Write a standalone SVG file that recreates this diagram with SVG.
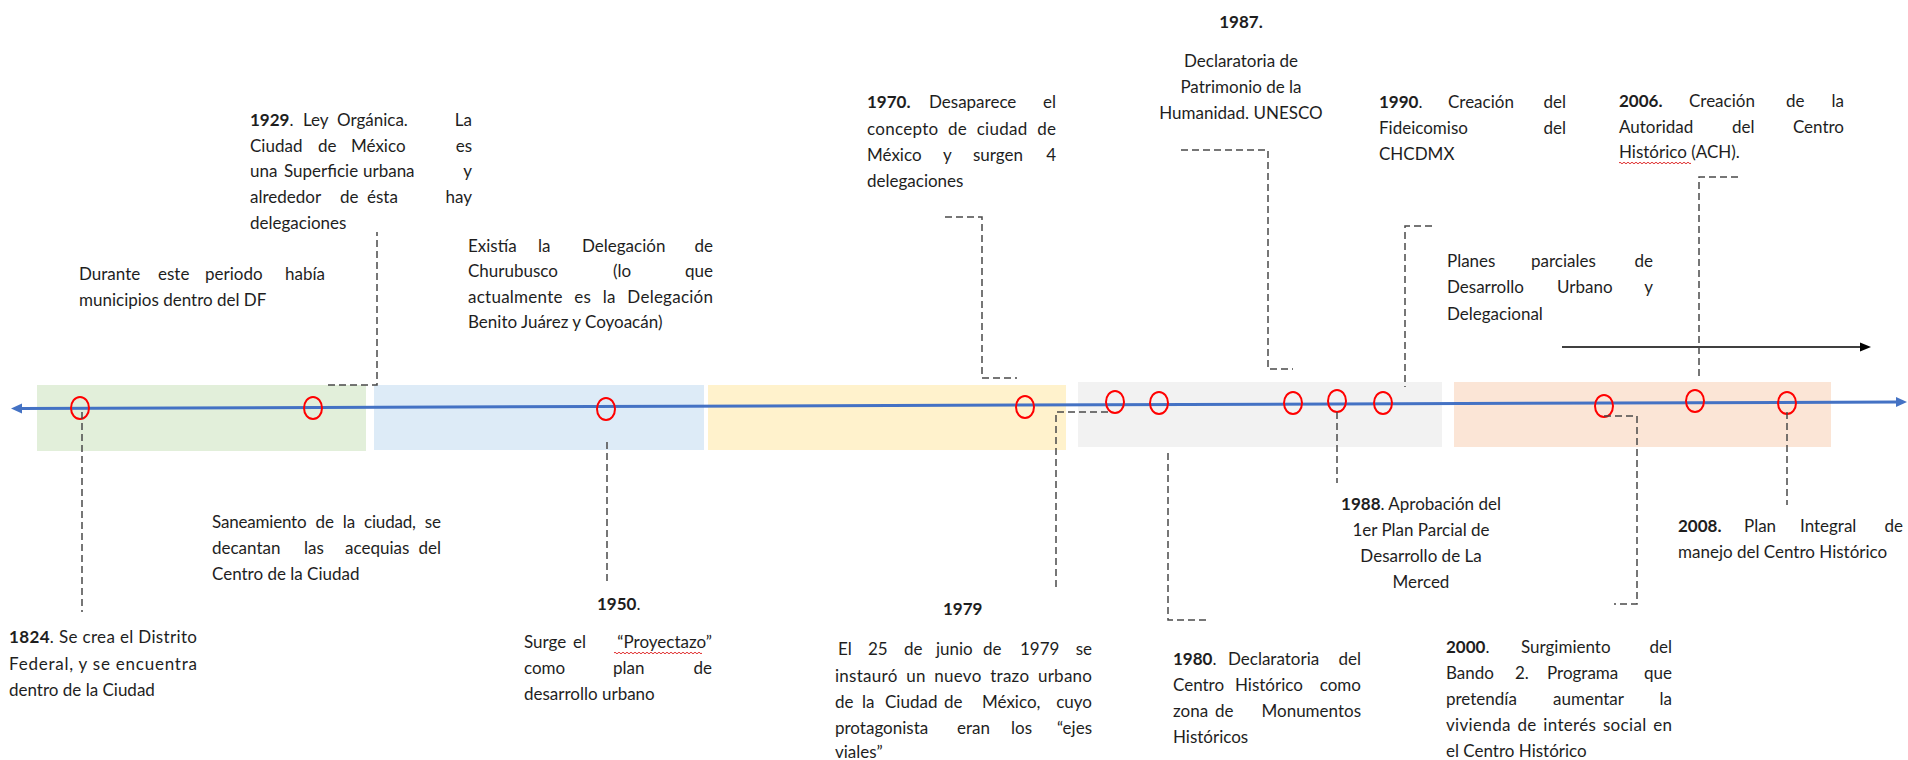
<svg xmlns="http://www.w3.org/2000/svg" width="1908" height="760" viewBox="0 0 1908 760">
<style>
.t{font-family:Lato,"Liberation Sans",sans-serif;font-size:17px;fill:#1e1e1e}
.b{font-weight:bold}
.e{text-anchor:end}
.m{text-anchor:middle}
.c{fill:none;stroke:#FF0000;stroke-width:2}
.d{fill:none;stroke:#4a4a4a;stroke-width:1.5;stroke-dasharray:7 4}
.sq{fill:none;stroke:#E03030;stroke-width:1}
</style>
<rect width="1908" height="760" fill="#FFFFFF"/>
<g id="bands">
<rect x="37" y="385" width="329" height="66" fill="#E2EFDA"/>
<rect x="374" y="385" width="330" height="65" fill="#DDEBF7"/>
<rect x="708" y="385" width="358" height="65" fill="#FFF2CC"/>
<rect x="1078" y="382" width="364" height="65" fill="#F2F2F2"/>
<rect x="1454" y="382" width="377" height="65" fill="#FBE5D6"/>
</g>
<g id="timeline">
<line x1="20" y1="408.5" x2="1897" y2="402" stroke="#4472C4" stroke-width="3"/>
<polygon points="11,408.5 22,403.5 22,413.5" fill="#4472C4"/>
<polygon points="1907,402 1896,397 1896,407" fill="#4472C4"/>
</g>
<g id="arrow-black">
<line x1="1562" y1="347" x2="1862" y2="347" stroke="#000" stroke-width="1.5"/>
<polygon points="1871,347 1860,342.5 1860,351.5" fill="#000"/>
</g>
<g id="markers">
<ellipse class="c" cx="80" cy="408" rx="9" ry="11"/>
<ellipse class="c" cx="313" cy="408" rx="9" ry="11"/>
<ellipse class="c" cx="606" cy="409" rx="9" ry="11"/>
<ellipse class="c" cx="1025" cy="407" rx="9" ry="11"/>
<ellipse class="c" cx="1115" cy="402" rx="9" ry="11"/>
<ellipse class="c" cx="1159" cy="403" rx="9" ry="11"/>
<ellipse class="c" cx="1293" cy="403" rx="9" ry="11"/>
<ellipse class="c" cx="1337" cy="401" rx="9" ry="11"/>
<ellipse class="c" cx="1383" cy="403" rx="9" ry="11"/>
<ellipse class="c" cx="1604" cy="406" rx="9" ry="11"/>
<ellipse class="c" cx="1695" cy="401" rx="9" ry="11"/>
<ellipse class="c" cx="1787" cy="403" rx="9" ry="11"/>
</g>
<g id="connectors">
<path class="d" d="M82,412 V612"/>
<path class="d" d="M328,385 H377 V232"/>
<path class="d" d="M607,442 V585"/>
<path class="d" d="M945,217 H982 V378 H1017"/>
<path class="d" d="M1108,412 H1056 V588"/>
<path class="d" d="M1168,453 V620 H1208"/>
<path class="d" d="M1181,150 H1268 V369 H1293"/>
<path class="d" d="M1337,412 V483"/>
<path class="d" d="M1432,226 H1405 V387"/>
<path class="d" d="M1604,416 H1637 V604 H1614"/>
<path class="d" d="M1738,177 H1699 V377"/>
<path class="d" d="M1787,412 V505"/>
</g>
<g id="n1824">
<text class="t" x="9" y="643" textLength="188" lengthAdjust="spacing"><tspan class="b">1824</tspan>. Se crea el Distrito</text>
<text class="t" x="9" y="670" textLength="188" lengthAdjust="spacing">Federal, y se encuentra</text>
<text class="t" x="9" y="696">dentro de la Ciudad</text>
</g>
<g id="n-municipios">
<text class="t" y="280"><tspan x="79">Durante</tspan><tspan x="158">este</tspan><tspan x="205">periodo</tspan></text>
<text class="t e" x="325" y="280">había</text>
<text class="t" x="79" y="306">municipios dentro del DF</text>
</g>
<g id="n1929">
<text class="t" y="126"><tspan x="250"><tspan class="b">1929</tspan>.</tspan><tspan x="303">Ley</tspan><tspan x="337">Orgánica.</tspan></text>
<text class="t e" x="472" y="126">La</text>
<text class="t" y="152"><tspan x="250">Ciudad</tspan><tspan x="318">de</tspan><tspan x="351">México</tspan></text>
<text class="t e" x="472" y="152">es</text>
<text class="t" y="177"><tspan x="250">una</tspan><tspan x="284">Superficie</tspan><tspan x="363">urbana</tspan></text>
<text class="t e" x="472" y="177">y</text>
<text class="t" y="203"><tspan x="250">alrededor</tspan><tspan x="340">de</tspan><tspan x="367">ésta</tspan></text>
<text class="t e" x="472" y="203">hay</text>
<text class="t" x="250" y="229">delegaciones</text>
</g>
<g id="n-saneamiento">
<text class="t" x="212" y="528" word-spacing="5" textLength="229" lengthAdjust="spacing">Saneamiento de la ciudad, se</text>
<text class="t" y="554"><tspan x="212">decantan</tspan><tspan x="304">las</tspan><tspan x="345">acequias</tspan></text>
<text class="t e" x="441" y="554">del</text>
<text class="t" x="212" y="580">Centro de la Ciudad</text>
</g>
<g id="n-churubusco">
<text class="t" y="252"><tspan x="468">Existía</tspan><tspan x="538">la</tspan><tspan x="582">Delegación</tspan></text>
<text class="t e" x="713" y="252">de</text>
<text class="t" y="277"><tspan x="468">Churubusco</tspan><tspan x="613">(lo</tspan></text>
<text class="t e" x="713" y="277">que</text>
<text class="t" x="468" y="303" word-spacing="7" textLength="245" lengthAdjust="spacing">actualmente es la Delegación</text>
<text class="t" x="468" y="328">Benito Juárez y Coyoacán)</text>
</g>
<g id="n1950">
<text class="t" x="597" y="610"><tspan class="b">1950</tspan>.</text>
<text class="t" y="648"><tspan x="524">Surge</tspan><tspan x="573">el</tspan></text>
<text class="t e" x="712" y="648">“Proyectazo”</text>
<path class="sq" d="M614,653 q1,-1.6 2,0 t2,0 t2,0 t2,0 t2,0 t2,0 t2,0 t2,0 t2,0 t2,0 t2,0 t2,0 t2,0 t2,0 t2,0 t2,0 t2,0 t2,0 t2,0 t2,0 t2,0 t2,0 t2,0 t2,0 t2,0 t2,0 t2,0 t2,0 t2,0 t2,0 t2,0 t2,0 t2,0 t2,0 t2,0 t2,0 t2,0 t2,0 t2,0 t2,0 t2,0 t2,0 t2,0 t2,0"/>
<text class="t" y="674"><tspan x="524">como</tspan><tspan x="613">plan</tspan></text>
<text class="t e" x="712" y="674">de</text>
<text class="t" x="524" y="700">desarrollo urbano</text>
</g>
<g id="n1970">
<text class="t" y="108"><tspan x="867" class="b">1970.</tspan><tspan x="929">Desaparece</tspan></text>
<text class="t e" x="1056" y="108">el</text>
<text class="t" x="867" y="135" word-spacing="5" textLength="189" lengthAdjust="spacing">concepto de ciudad de</text>
<text class="t" y="161"><tspan x="867">México</tspan><tspan x="943">y</tspan><tspan x="973">surgen</tspan></text>
<text class="t e" x="1056" y="161">4</text>
<text class="t" x="867" y="187">delegaciones</text>
</g>
<g id="n1979">
<text class="t b" x="943" y="615">1979</text>
<text class="t" y="655"><tspan x="838">El</tspan><tspan x="868">25</tspan><tspan x="904">de</tspan><tspan x="936">junio</tspan><tspan x="983">de</tspan><tspan x="1020">1979</tspan></text>
<text class="t e" x="1092" y="655">se</text>
<text class="t" x="835" y="682" word-spacing="4" textLength="257" lengthAdjust="spacing">instauró un nuevo trazo urbano</text>
<text class="t" y="708"><tspan x="835">de</tspan><tspan x="862">la</tspan><tspan x="885">Ciudad</tspan><tspan x="944">de</tspan><tspan x="982">México,</tspan></text>
<text class="t e" x="1092" y="708">cuyo</text>
<text class="t" y="734"><tspan x="835">protagonista</tspan><tspan x="957">eran</tspan><tspan x="1011">los</tspan></text>
<text class="t e" x="1092" y="734">“ejes</text>
<text class="t" x="835" y="758">viales”</text>
</g>
<g id="n1980">
<text class="t" y="665"><tspan x="1173"><tspan class="b">1980</tspan>.</tspan><tspan x="1228">Declaratoria</tspan></text>
<text class="t e" x="1361" y="665">del</text>
<text class="t" y="691"><tspan x="1173">Centro</tspan><tspan x="1235">Histórico</tspan></text>
<text class="t e" x="1361" y="691">como</text>
<text class="t" y="717"><tspan x="1173">zona</tspan><tspan x="1215">de</tspan></text>
<text class="t e" x="1361" y="717">Monumentos</text>
<text class="t" x="1173" y="743">Históricos</text>
</g>
<g id="n1987">
<text class="t b m" x="1241" y="28">1987.</text>
<text class="t m" x="1241" y="67">Declaratoria de</text>
<text class="t m" x="1241" y="93">Patrimonio de la</text>
<text class="t m" x="1241" y="119">Humanidad. UNESCO</text>
</g>
<g id="n1988">
<text class="t m" x="1421" y="510"><tspan class="b">1988</tspan>. Aprobación del</text>
<text class="t m" x="1421" y="536">1er Plan Parcial de</text>
<text class="t m" x="1421" y="562">Desarrollo de La</text>
<text class="t m" x="1421" y="588">Merced</text>
</g>
<g id="n1990">
<text class="t" y="108"><tspan x="1379"><tspan class="b">1990</tspan>.</tspan><tspan x="1448">Creación</tspan></text>
<text class="t e" x="1566" y="108">del</text>
<text class="t" x="1379" y="134">Fideicomiso</text>
<text class="t e" x="1566" y="134">del</text>
<text class="t" x="1379" y="160">CHCDMX</text>
</g>
<g id="n-planes">
<text class="t" y="267"><tspan x="1447">Planes</tspan><tspan x="1531">parciales</tspan></text>
<text class="t e" x="1653" y="267">de</text>
<text class="t" y="293"><tspan x="1447">Desarrollo</tspan><tspan x="1557">Urbano</tspan></text>
<text class="t e" x="1653" y="293">y</text>
<text class="t" x="1447" y="320">Delegacional</text>
</g>
<g id="n2000">
<text class="t" y="653"><tspan x="1446"><tspan class="b">2000</tspan>.</tspan><tspan x="1521">Surgimiento</tspan></text>
<text class="t e" x="1672" y="653">del</text>
<text class="t" y="679"><tspan x="1446">Bando</tspan><tspan x="1515">2.</tspan><tspan x="1547">Programa</tspan></text>
<text class="t e" x="1672" y="679">que</text>
<text class="t" y="705"><tspan x="1446">pretendía</tspan><tspan x="1553">aumentar</tspan></text>
<text class="t e" x="1672" y="705">la</text>
<text class="t" x="1446" y="731" word-spacing="2" textLength="226" lengthAdjust="spacing">vivienda de interés social en</text>
<text class="t" x="1446" y="757">el Centro Histórico</text>
</g>
<g id="n2006">
<text class="t" y="107"><tspan x="1619" class="b">2006.</tspan><tspan x="1689">Creación</tspan><tspan x="1786">de</tspan></text>
<text class="t e" x="1844" y="107">la</text>
<text class="t" y="133"><tspan x="1619">Autoridad</tspan><tspan x="1732">del</tspan></text>
<text class="t e" x="1844" y="133">Centro</text>
<text class="t" x="1619" y="158">Histórico (ACH).</text>
<path class="sq" d="M1619,163 q1,-1.6 2,0 t2,0 t2,0 t2,0 t2,0 t2,0 t2,0 t2,0 t2,0 t2,0 t2,0 t2,0 t2,0 t2,0 t2,0 t2,0 t2,0 t2,0 t2,0 t2,0 t2,0 t2,0 t2,0 t2,0 t2,0 t2,0 t2,0 t2,0 t2,0 t2,0 t2,0 t2,0 t2,0 t2,0 t2,0 t2,0"/>
</g>
<g id="n2008">
<text class="t" y="532"><tspan x="1678" class="b">2008.</tspan><tspan x="1744">Plan</tspan><tspan x="1800">Integral</tspan></text>
<text class="t e" x="1903" y="532">de</text>
<text class="t" x="1678" y="558">manejo del Centro Histórico</text>
</g>
</svg>
